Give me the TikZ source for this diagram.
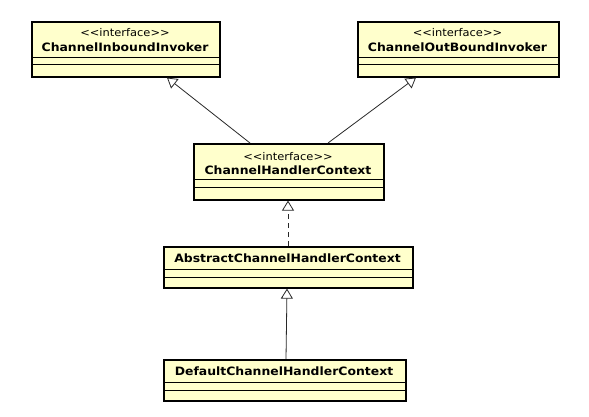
\documentclass[tikz,border=0pt]{standalone}
\usepackage{fontspec}
\newfontfamily\umlfont[FakeStretch=1.08]{DejaVu Sans}
\usetikzlibrary{arrows.meta,calc}
\definecolor{umlfill}{RGB}{255,255,204}
\definecolor{umlline}{RGB}{40,40,40}

\tikzset{
  classbox/.style={draw=black,line width=1.6pt,fill=umlfill,inner sep=0pt,anchor=north west},
  stereo/.style={font=\umlfont\fontsize{10.6}{12}\selectfont,inner sep=0pt},
  cname/.style={font=\umlfont\fontsize{11.5}{14}\selectfont\bfseries,inner sep=0pt},
  realize/.style={umlline,line width=0.8pt,-{Triangle[open,length=10pt,width=12pt,fill=white]}},
}

\begin{document}
\begin{tikzpicture}[x=1pt,y=1pt]
        \useasboundingbox[fill=white] (0,0) rectangle (589,-416);
        % interfaces on top
        \node[classbox,minimum width=188pt,minimum height=55pt] (inbound) at (31,-21) {};
        \node[stereo] (inboundst) at (125,-33) {<<interface>>};
        \node[cname] (inboundnm) at (125,-47) {ChannelInboundInvoker};
        \draw (31,-57) -- (219,-57) (31,-64) -- (219,-64);

        \node[classbox,minimum width=201pt,minimum height=55pt] (outbound) at (357,-21) {};
        \node[stereo] (outboundst) at (457.5,-33) {<<interface>>};
        \node[cname] (outboundnm) at (457.5,-47) {ChannelOutBoundInvoker};
        \draw (357,-57) -- (558,-57) (357,-64) -- (558,-64);

        % the context interface
        \node[classbox,minimum width=190pt,minimum height=56pt] (context) at (193,-143) {};
        \node[stereo] (contextst) at (288,-157) {<<interface>>};
        \node[cname] (contextnm) at (288,-170) {ChannelHandlerContext};
        \draw (193,-179) -- (383,-179) (193,-187) -- (383,-187);

        % classes
        \node[classbox,minimum width=249pt,minimum height=41pt] (abstract) at (163,-246) {};
        \node[cname] (abstractnm) at (287.5,-258) {AbstractChannelHandlerContext};
        \draw (163,-269) -- (412,-269) (163,-277) -- (412,-277);

        \node[classbox,minimum width=242pt,minimum height=41pt] (default) at (163,-359) {};
        \node[cname] (defaultnm) at (284,-371) {DefaultChannelHandlerContext};
        \draw (163,-382) -- (405,-382) (163,-390) -- (405,-390);

        % generalisation / realisation
        \draw[realize] ($(context.north west)+(57,0)$) -- ($(inbound.south west)+(136,0)$);
        \draw[realize] ($(context.north west)+(135,0)$) -- ($(outbound.south west)+(59,0)$);
        \draw[realize,dash pattern=on 5pt off 4pt] ($(abstract.north west)+(125,0)$) -- ($(context.south west)+(95,0)$);
        \draw[realize] ($(default.north west)+(123,0)$) -- ($(abstract.south west)+(124,0)$);
      \end{tikzpicture}
\end{document}
